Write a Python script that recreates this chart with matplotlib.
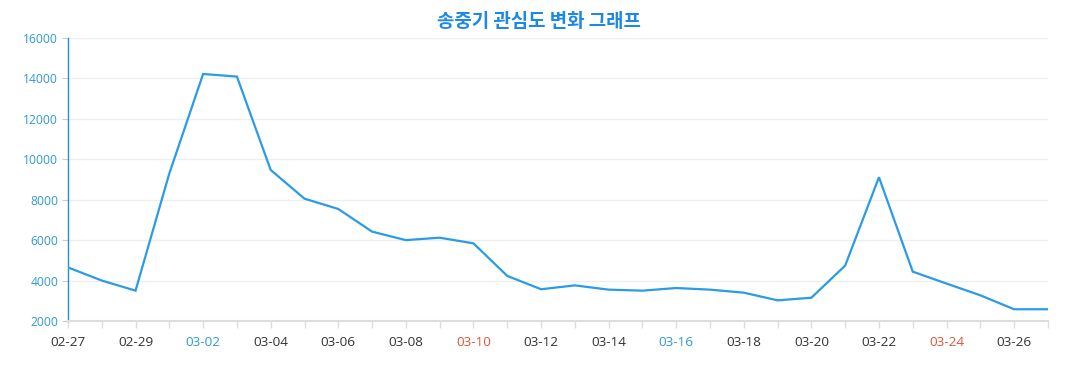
import matplotlib
matplotlib.use('Agg')
import matplotlib.pyplot as plt
import numpy as np

# 날짜 (2024-02-27 ~ 2024-03-27)
dates = ['02-27', '02-28', '02-29', '03-01', '03-02', '03-03', '03-04', '03-05',
         '03-06', '03-07', '03-08', '03-09', '03-10', '03-11', '03-12', '03-13',
         '03-14', '03-15', '03-16', '03-17', '03-18', '03-19', '03-20', '03-21',
         '03-22', '03-23', '03-24', '03-25', '03-26', '03-27']
values = [4650, 4000, 3500, 9300, 14220, 14090, 9470, 8050,
          7540, 6420, 6000, 6120, 5840, 4230, 3570, 3760,
          3550, 3500, 3630, 3550, 3400, 3020, 3150, 4740,
          9110, 4440, 3850, 3270, 2580, 2580]
yticks = [2000, 4000, 6000, 8000, 10000, 12000, 14000, 16000]
# 라벨 색: 토요일 파랑, 일요일 빨강
blue_labels = ['03-02', '03-16']
red_labels = ['03-10', '03-24']

blue = '#1f8fe0'
fig = plt.figure(figsize=(10.77, 3.90), dpi=100)
ax = fig.add_axes([0.0631, 0.177, 0.9099, 0.7256])

x = np.arange(len(dates))
ax.plot(x, values, color='#2a9be6', lw=1.6, solid_joinstyle='miter', zorder=3)

ax.set_xlim(0, len(dates) - 1)
ax.set_ylim(2000, 16000)
ax.set_yticks(yticks)
ax.set_yticklabels([str(v) for v in yticks], fontsize=8.7, color='#2e9ad6',
                   family='Open Sans')
ax.grid(axis='y', color='#eeeeee', lw=0.9)
ax.set_axisbelow(True)

ax.set_xticks(x, minor=True)
ax.set_xticks(x[::2])
ax.set_xticklabels(dates[::2], fontsize=9.7, family='Open Sans')
for lab in ax.get_xticklabels():
    t = lab.get_text()
    if t in blue_labels:
        lab.set_color('#2e9ad6')
    elif t in red_labels:
        lab.set_color('#e0553a')
    else:
        lab.set_color('#333333')

ax.tick_params(axis='x', which='both', length=5, color='#dddddd', width=1, pad=6)
ax.tick_params(axis='y', length=4, color='#cccccc', pad=3)

for s in ['top', 'right']:
    ax.spines[s].set_visible(False)
ax.spines['left'].set_color(blue)
ax.spines['left'].set_linewidth(1.0)
ax.spines['bottom'].set_color('#dddddd')
ax.spines['bottom'].set_linewidth(1.5)

fig.text(0.5, 0.945, '송중기 관심도 변화 그래프', ha='center', va='center',
         fontsize=13.6, fontweight='bold', color='#1e88e5',
         family=['Noto Sans CJK KR', 'DejaVu Sans'])

plt.savefig('out.png', dpi=100, facecolor='white')
plt.close()
